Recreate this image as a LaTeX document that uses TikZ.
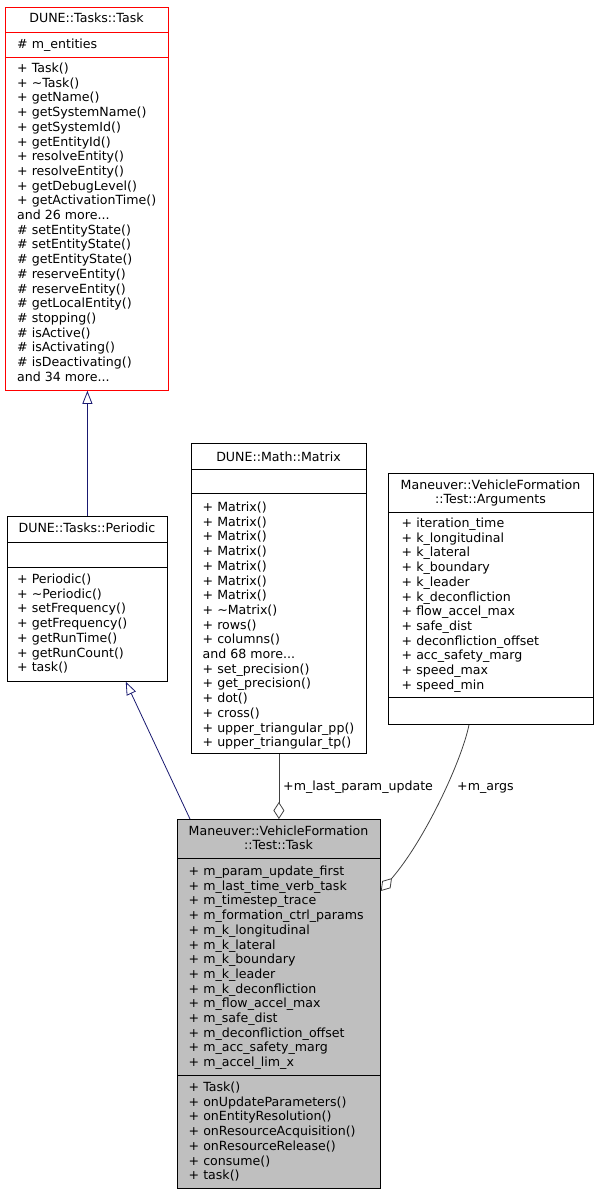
\documentclass[tikz,border=0pt]{standalone}
\usepackage{fontspec}
\setmainfont{DejaVu Sans}
\usetikzlibrary{arrows.meta}
\definecolor{edgegray}{HTML}{404040}
\definecolor{inhblue}{HTML}{191970}
\definecolor{boxgray}{HTML}{BFBFBF}
\tikzset{
  umlbox/.style={draw=black, line width=0.8pt, rectangle, inner sep=0pt, anchor=north west},
  sepline/.style={line width=0.8pt},
  txt/.style={inner sep=0pt, font=\fontsize{12.6}{14.7}\selectfont},
  inh/.style={draw=inhblue, line width=0.8pt, -{Triangle[open, length=13pt, width=10pt]}},
  agg/.style={draw=edgegray, line width=0.8pt, {Diamond[open, length=17pt, width=11pt]}-},
}
\newcommand\tdots{...}
\newcommand\mklines[4]{%
  \foreach \t [count=\i from 0] in {#4} {\node[txt, anchor=base west] (#3\i) at (#1, #2+\i*14.7) {\t};}%
}
\begin{document}
\begin{tikzpicture}[x=1pt,y=-1pt]
\useasboundingbox (0,0) rectangle (599,1195);

% DUNE::Tasks::Task
\node[umlbox, draw=red, minimum width=163pt, minimum height=383pt] (task) at (5,7) {};
\draw[sepline, red] (task.west |- 0,32) -- (task.east |- 0,32);
\draw[sepline, red] (task.west |- 0,57) -- (task.east |- 0,57);
\node[txt, anchor=base] (tasktitle) at (86.5,22.5) {DUNE::Tasks::Task};
\mklines{17}{48}{taska}{\# m\_entities}
\mklines{17}{72.5}{taskm}{+ Task(),+ \textasciitilde{}Task(),+ getName(),+ getSystemName(),+ getSystemId(),+ getEntityId(),+ resolveEntity(),+ resolveEntity(),+ getDebugLevel(),+ getActivationTime(),and 26 more\tdots,\# setEntityState(),\# setEntityState(),\# getEntityState(),\# reserveEntity(),\# reserveEntity(),\# getLocalEntity(),\# stopping(),\# isActive(),\# isActivating(),\# isDeactivating(),and 34 more\tdots}

% DUNE::Tasks::Periodic
\node[umlbox, minimum width=160pt, minimum height=165pt] (per) at (7,516) {};
\draw[sepline] (per.west |- 0,542) -- (per.east |- 0,542);
\draw[sepline] (per.west |- 0,567) -- (per.east |- 0,567);
\node[txt, anchor=base] (pertitle) at (87,532.5) {DUNE::Tasks::Periodic};
\mklines{17}{583.5}{perm}{+ Periodic(),+ \textasciitilde{}Periodic(),+ setFrequency(),+ getFrequency(),+ getRunTime(),+ getRunCount(),+ task()}

% DUNE::Math::Matrix
\node[umlbox, minimum width=175pt, minimum height=310pt] (mtx) at (191,443) {};
\draw[sepline] (mtx.west |- 0,469) -- (mtx.east |- 0,469);
\draw[sepline] (mtx.west |- 0,493) -- (mtx.east |- 0,493);
\node[txt, anchor=base] (mtxtitle) at (278.5,461) {DUNE::Math::Matrix};
\mklines{202.5}{511.5}{mtxm}{+ Matrix(),+ Matrix(),+ Matrix(),+ Matrix(),+ Matrix(),+ Matrix(),+ Matrix(),+ \textasciitilde{}Matrix(),+ rows(),+ columns(),and 68 more\tdots,+ set\_precision(),+ get\_precision(),+ dot(),+ cross(),+ upper\_triangular\_pp(),+ upper\_triangular\_tp()}

% Arguments
\node[umlbox, minimum width=205pt, minimum height=251pt] (args) at (388,473) {};
\draw[sepline] (args.west |- 0,512) -- (args.east |- 0,512);
\draw[sepline] (args.west |- 0,697) -- (args.east |- 0,697);
\node[txt, anchor=base] (argstitle1) at (490.5,489.5) {Maneuver::VehicleFormation};
\node[txt, anchor=base] (argstitle2) at (490.5,503.5) {::Test::Arguments};
\mklines{401.5}{527.5}{argsa}{+ iteration\_time,+ k\_longitudinal,+ k\_lateral,+ k\_boundary,+ k\_leader,+ k\_deconfliction,+ flow\_accel\_max,+ safe\_dist,+ deconfliction\_offset,+ acc\_safety\_marg,+ speed\_max,+ speed\_min}

% Maneuver::VehicleFormation::Test::Task
\node[umlbox, fill=boxgray, minimum width=203pt, minimum height=369pt] (main) at (177,819) {};
\draw[sepline] (main.west |- 0,858) -- (main.east |- 0,858);
\draw[sepline] (main.west |- 0,1075) -- (main.east |- 0,1075);
\node[txt, anchor=base] (maintitle1) at (278.5,835.5) {Maneuver::VehicleFormation};
\node[txt, anchor=base] (maintitle2) at (278.5,849.5) {::Test::Task};
\mklines{188.5}{875.5}{maina}{+ m\_param\_update\_first,+ m\_last\_time\_verb\_task,+ m\_timestep\_trace,+ m\_formation\_ctrl\_params,+ m\_k\_longitudinal,+ m\_k\_lateral,+ m\_k\_boundary,+ m\_k\_leader,+ m\_k\_deconfliction,+ m\_flow\_accel\_max,+ m\_safe\_dist,+ m\_deconfliction\_offset,+ m\_acc\_safety\_marg,+ m\_accel\_lim\_x}
\mklines{188.5}{1091.5}{mainm}{+ Task(),+ onUpdateParameters(),+ onEntityResolution(),+ onResourceAcquisition(),+ onResourceRelease(),+ consume(),+ task()}

% connectors
\draw[inh] (per.north) -- (per.north |- task.south);
\draw[inh] ([xshift=13pt]main.north west) -- ([xshift=-42pt]per.south east);
\draw[agg] (mtx.south |- main.north) -- (mtx.south);
\node[txt, anchor=base west] (lbl1) at (283,790.5) {+m\_last\_param\_update};
\draw[agg] ([yshift=-72pt]main.north east) .. controls (425,840) and (462,760) .. ([xshift=81pt]args.south west);
\node[txt, anchor=base west] (lbl2) at (457,790.5) {+m\_args};
\end{tikzpicture}
\end{document}
